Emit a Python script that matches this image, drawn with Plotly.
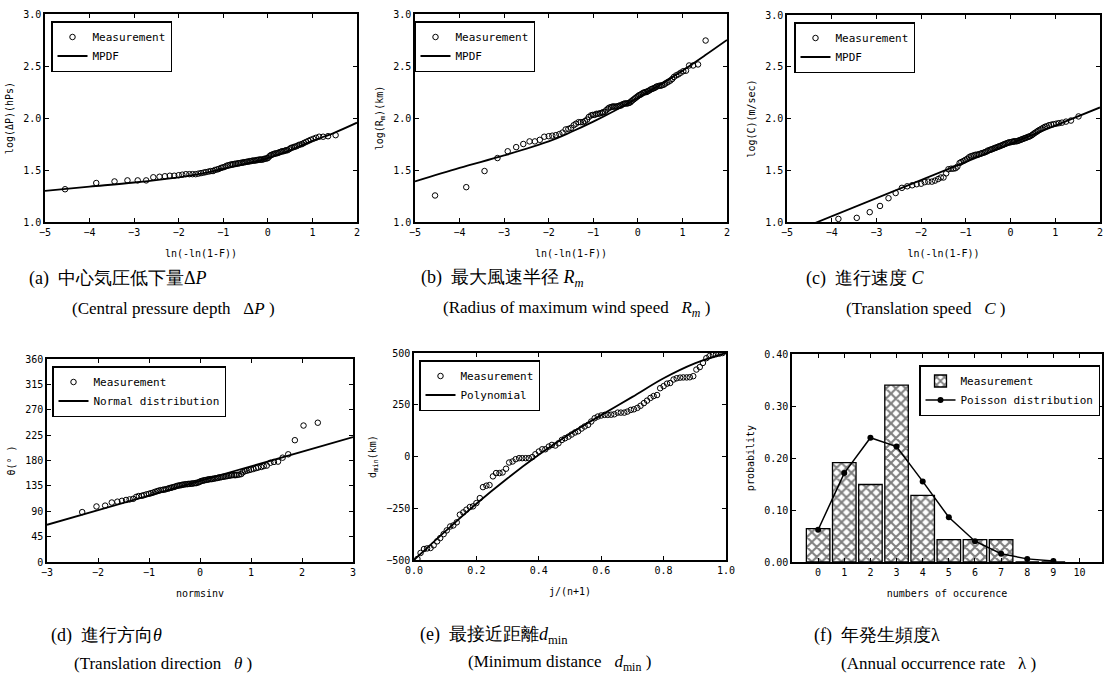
import plotly.graph_objects as go

# ---------------- data ----------------
# Gumbel plotting positions ln(-ln(1-F)) shared by panels (a)-(c)
gumbel_x = [-4.55, -3.85, -3.44, -3.15, -2.92, -2.73, -2.57, -2.43, -2.31, -2.20,
            -2.10, -2.00, -1.92, -1.84, -1.76, -1.69, -1.62, -1.56, -1.50, -1.44,
            -1.39, -1.33, -1.28, -1.23, -1.19, -1.14, -1.10, -1.05, -1.01, -0.97,
            -0.93, -0.89, -0.85, -0.81, -0.78, -0.74, -0.71, -0.67, -0.64, -0.60,
            -0.57, -0.54, -0.51, -0.47, -0.44, -0.41, -0.38, -0.35, -0.32, -0.29,
            -0.26, -0.23, -0.20, -0.17, -0.15, -0.12, -0.09, -0.06, -0.03, 0.00,
            0.03, 0.06, 0.08, 0.11, 0.14, 0.17, 0.20, 0.23, 0.26, 0.29,
            0.32, 0.35, 0.38, 0.41, 0.44, 0.48, 0.51, 0.54, 0.58, 0.61,
            0.65, 0.69, 0.73, 0.77, 0.81, 0.86, 0.91, 0.96, 1.02, 1.08,
            1.15, 1.24, 1.35, 1.52]

dp_meas = [1.315, 1.375, 1.39, 1.40, 1.40, 1.40, 1.43, 1.435, 1.44, 1.445,
           1.445, 1.45, 1.455, 1.46, 1.46, 1.46, 1.46, 1.465, 1.47, 1.475,
           1.48, 1.485, 1.49, 1.49, 1.50, 1.505, 1.51, 1.52, 1.525, 1.53,
           1.54, 1.545, 1.55, 1.555, 1.555, 1.56, 1.56, 1.565, 1.565, 1.57,
           1.57, 1.575, 1.575, 1.58, 1.58, 1.585, 1.585, 1.59, 1.59, 1.59,
           1.595, 1.595, 1.60, 1.60, 1.60, 1.60, 1.605, 1.61, 1.61, 1.615,
           1.63, 1.64, 1.645, 1.65, 1.655, 1.66, 1.66, 1.665, 1.67, 1.675,
           1.68, 1.68, 1.685, 1.69, 1.69, 1.70, 1.71, 1.715, 1.72, 1.725,
           1.73, 1.74, 1.745, 1.75, 1.76, 1.77, 1.78, 1.79, 1.80, 1.81,
           1.82, 1.82, 1.825, 1.835]

rm_meas = [1.255, 1.335, 1.49, 1.615, 1.68, 1.72, 1.75, 1.775, 1.775, 1.79,
           1.82, 1.825, 1.83, 1.835, 1.845, 1.86, 1.89, 1.895, 1.905, 1.93,
           1.945, 1.96, 1.96, 1.96, 1.97, 1.985, 2.01, 2.025, 2.03, 2.03,
           2.04, 2.04, 2.045, 2.05, 2.055, 2.06, 2.075, 2.09, 2.10, 2.105,
           2.11, 2.11, 2.11, 2.11, 2.115, 2.12, 2.12, 2.13, 2.135, 2.14,
           2.14, 2.14, 2.145, 2.15, 2.16, 2.17, 2.18, 2.19, 2.20, 2.21,
           2.22, 2.225, 2.23, 2.24, 2.245, 2.25, 2.25, 2.26, 2.265, 2.275,
           2.28, 2.285, 2.29, 2.30, 2.305, 2.31, 2.31, 2.315, 2.32, 2.33,
           2.34, 2.35, 2.36, 2.375, 2.395, 2.41, 2.42, 2.435, 2.45, 2.455,
           2.505, 2.505, 2.515, 2.745]

c_meas = [0.95, 1.03, 1.04, 1.095, 1.155, 1.23, 1.28, 1.33, 1.345, 1.355,
          1.365, 1.37, 1.385, 1.39, 1.39, 1.40, 1.415, 1.43, 1.43, 1.47,
          1.51, 1.515, 1.515, 1.52, 1.535, 1.57, 1.58, 1.59, 1.60, 1.61,
          1.625, 1.635, 1.64, 1.645, 1.65, 1.65, 1.655, 1.66, 1.665, 1.67,
          1.675, 1.68, 1.69, 1.695, 1.70, 1.705, 1.71, 1.715, 1.72, 1.725,
          1.73, 1.735, 1.74, 1.745, 1.75, 1.755, 1.76, 1.765, 1.77, 1.77,
          1.775, 1.775, 1.78, 1.78, 1.78, 1.785, 1.79, 1.795, 1.80, 1.805,
          1.81, 1.815, 1.82, 1.825, 1.83, 1.84, 1.85, 1.86, 1.87, 1.88,
          1.89, 1.90, 1.91, 1.92, 1.925, 1.935, 1.94, 1.945, 1.95, 1.955,
          1.96, 1.97, 1.98, 2.02]

mpdf_x = [-5, -4, -3, -2, -1.5, -1, -0.5, 0, 0.5, 1, 1.5, 2]
dp_mpdf = [1.30, 1.34, 1.38, 1.43, 1.465, 1.51, 1.56, 1.615, 1.69, 1.78, 1.86, 1.955]
rm_mpdf = [1.39, 1.52, 1.64, 1.775, 1.865, 1.965, 2.075, 2.195, 2.32, 2.455, 2.60, 2.75]
c_mpdf_x = [-5, 2]
c_mpdf = [0.88, 2.107]

# (d) translation direction
normsinv_x = [-2.31, -2.03, -1.86, -1.73, -1.62, -1.53, -1.45, -1.38, -1.31, -1.25,
              -1.20, -1.14, -1.10, -1.05, -1.00, -0.96, -0.92, -0.88, -0.84, -0.81,
              -0.77, -0.73, -0.70, -0.67, -0.63, -0.60, -0.57, -0.54, -0.51, -0.48,
              -0.45, -0.42, -0.39, -0.36, -0.34, -0.31, -0.28, -0.25, -0.23, -0.20,
              -0.17, -0.15, -0.12, -0.09, -0.07, -0.04, -0.01,
              0.01, 0.04, 0.07, 0.09, 0.12, 0.15, 0.17, 0.20, 0.23, 0.25,
              0.28, 0.31, 0.34, 0.36, 0.39, 0.42, 0.45, 0.48, 0.51, 0.54,
              0.57, 0.60, 0.63, 0.67, 0.70, 0.73, 0.77, 0.81, 0.84, 0.88,
              0.92, 0.96, 1.00, 1.05, 1.10, 1.14, 1.20, 1.25, 1.31, 1.38,
              1.45, 1.53, 1.62, 1.73, 1.86, 2.03, 2.31]
theta_meas = [88.5, 98.5, 100, 105.5, 107, 108.5, 110, 111, 112, 115.5,
              117, 117.5, 118.5, 120, 121, 122, 123, 124.5, 125.5, 126.5,
              127.5, 128, 128.5, 129, 130, 131, 131.5, 132.5, 133, 134,
              135, 135.5, 136, 136.5, 137, 137.5, 138, 138, 138.5, 138.5,
              139, 139, 139.5, 140, 140, 141, 142, 143, 144, 144.5,
              145, 145.5, 146, 146.5, 147, 147, 147.5, 148, 148.5, 149,
              149.5, 150, 150.5, 151, 151.5, 152, 152.5, 153, 153.5, 154,
              154, 154, 154.5, 155, 156, 159, 161, 162, 163, 164,
              165, 166.5, 167.5, 168.5, 170, 171, 176, 177.5, 178, 185,
              191, 216, 242, 247]
normal_x = [-3, 3]
normal_y = [66, 221.5]

# (e) minimum distance
rank_x = [0.011, 0.021, 0.032, 0.042, 0.053, 0.063, 0.074, 0.084, 0.095, 0.105,
          0.116, 0.126, 0.137, 0.147, 0.158, 0.168, 0.179, 0.189, 0.200, 0.211,
          0.221, 0.232, 0.242, 0.253, 0.263, 0.274, 0.284, 0.295, 0.305, 0.316,
          0.326, 0.337, 0.347, 0.358, 0.368, 0.379, 0.389, 0.400, 0.411, 0.421,
          0.432, 0.442, 0.453, 0.463, 0.474, 0.484, 0.495, 0.505, 0.516, 0.526,
          0.537, 0.547, 0.558, 0.568, 0.579, 0.589, 0.600, 0.611, 0.621, 0.632,
          0.642, 0.653, 0.663, 0.674, 0.684, 0.695, 0.705, 0.716, 0.726, 0.737,
          0.747, 0.758, 0.768, 0.779, 0.789, 0.800, 0.811, 0.821, 0.832, 0.842,
          0.853, 0.863, 0.874, 0.884, 0.895, 0.905, 0.916, 0.926, 0.937, 0.947,
          0.958, 0.968, 0.979, 0.989]
dmin_meas = [-495, -466, -447, -444, -442, -429, -410, -394, -375, -357,
             -338, -333, -318, -281, -270, -257, -244, -241, -225, -201,
             -148, -141, -138, -96, -80, -80, -77, -59, -29, -24,
             -13, -8, -8, -8, -8, -3, 11, 24, 35, 35,
             48, 56, 53, 64, 80, 88, 96, 106, 116, 122,
             135, 145, 153, 169, 185, 193, 198, 201, 201, 202,
             204, 212, 212, 212, 217, 225, 228, 235, 245, 258,
             270, 283, 292, 297, 330, 340, 352, 355, 372, 378,
             381, 382, 382, 383, 388, 420, 432, 452, 475, 485,
             490, 494, 497, 500]
poly_x = [0.0, 0.1, 0.2, 0.3, 0.4, 0.5, 0.6, 0.7, 0.8, 0.9, 1.0]
poly_y = [-500, -362, -228, -105, 8, 110, 200, 288, 378, 450, 500]

# (f) annual occurrence
occ_x = [0, 1, 2, 3, 4, 5, 6, 7, 8, 9]
occ_meas = [0.064, 0.191, 0.149, 0.340, 0.128, 0.043, 0.043, 0.043, 0.0, 0.0]
occ_poisson = [0.062, 0.171, 0.239, 0.222, 0.155, 0.086, 0.040, 0.016, 0.006, 0.002]

# axis titles
sp = "\u00a0"
x_titles = {1: "ln(-ln(1-F))" + sp * 5, 2: "ln(-ln(1-F))" + sp * 5, 3: "ln(-ln(1-F))" + sp * 5,
            4: "normsinv", 5: "j/(n+1)", 6: "numbers of occurence"}
y_titles = {1: sp * 4 + "log(ΔP)(hPs)", 2: sp * 7 + "log(R<sub>m</sub>)(km)",
            3: sp * 9 + "log(C)(m/sec)", 4: "θ(° )", 5: "d<sub>min</sub>(km)", 6: "probability"}

# ---------------- layout helpers ----------------
W, H = 1111, 677
def fx(p):
    return p / W
def fy(p):
    return 1 - p / H

MONO = "DejaVu Sans Mono"
SERIF = "Liberation Serif"

boxes = {  # pixel boxes: (x0, x1, ytop, ybottom)
    1: (45, 357, 14, 222),
    2: (415, 727, 14, 222),
    3: (787, 1100, 15, 222),
    4: (47, 353, 359, 562),
    5: (414, 726, 353, 560),
    6: (792, 1102, 354, 562),
}

fig = go.Figure()

circ = dict(symbol="circle-open", size=5.5, color="black", line=dict(width=1, color="black"))

def add_pair(i, xs, ys, lx, ly, line_name, spline=True):
    ax = "" if i == 1 else str(i)
    lg = "legend" if i == 1 else "legend%d" % i
    fig.add_trace(go.Scatter(x=xs, y=ys, mode="markers", marker=circ, name="Measurement",
                             xaxis="x" + ax, yaxis="y" + ax, legend=lg, cliponaxis=True))
    fig.add_trace(go.Scatter(x=lx, y=ly, mode="lines", name=line_name,
                             line=dict(color="black", width=1.8, shape="spline" if spline else "linear"),
                             xaxis="x" + ax, yaxis="y" + ax, legend=lg, cliponaxis=True))

add_pair(1, gumbel_x, dp_meas, mpdf_x, dp_mpdf, "MPDF")
add_pair(2, gumbel_x, rm_meas, mpdf_x, rm_mpdf, "MPDF")
add_pair(3, gumbel_x, c_meas, c_mpdf_x, c_mpdf, "MPDF", spline=False)
add_pair(4, normsinv_x, theta_meas, normal_x, normal_y, "Normal distribution", spline=False)
add_pair(5, rank_x, dmin_meas, poly_x, poly_y, "Polynomial")

fig.add_trace(go.Bar(x=occ_x, y=occ_meas, name="Measurement", width=0.9,
                     marker=dict(color="white", line=dict(color="black", width=1.3),
                                 pattern=dict(shape="x", fgcolor="black", bgcolor="white",
                                              size=7, solidity=0.5)),
                     xaxis="x6", yaxis="y6", legend="legend6"))
fig.add_trace(go.Scatter(x=occ_x, y=occ_poisson, mode="lines+markers", name="Poisson distribution",
                         line=dict(color="black", width=1.5),
                         marker=dict(symbol="circle", size=6, color="black"),
                         xaxis="x6", yaxis="y6", legend="legend6"))

tickfont = dict(family=MONO, size=10, color="black")
titlefont = dict(family=MONO, size=10, color="black")

def axis_common():
    return dict(showline=True, linecolor="black", linewidth=1.5, mirror="ticks",
                ticks="inside", ticklen=4, tickwidth=1, tickcolor="black",
                showgrid=False, zeroline=False, tickfont=tickfont, fixedrange=True,
                automargin=False)

axes_cfg = {
    1: (dict(range=[-5, 2], tickvals=[-5, -4, -3, -2, -1, 0, 1, 2]),
        dict(range=[1, 3], tickvals=[1, 1.5, 2, 2.5, 3], tickformat=".1f")),
    2: (dict(range=[-5, 2], tickvals=[-5, -4, -3, -2, -1, 0, 1, 2]),
        dict(range=[1, 3], tickvals=[1, 1.5, 2, 2.5, 3], tickformat=".1f")),
    3: (dict(range=[-5, 2], tickvals=[-5, -4, -3, -2, -1, 0, 1, 2]),
        dict(range=[1, 3], tickvals=[1, 1.5, 2, 2.5, 3], tickformat=".1f")),
    4: (dict(range=[-3, 3], tickvals=[-3, -2, -1, 0, 1, 2, 3]),
        dict(range=[0, 360], tickvals=[0, 45, 90, 135, 180, 225, 270, 315, 360])),
    5: (dict(range=[0, 1], tickvals=[0, 0.2, 0.4, 0.6, 0.8, 1.0], tickformat=".1f"),
        dict(range=[-500, 500], tickvals=[-500, -250, 0, 250, 500])),
    6: (dict(range=[-1, 10.86], tickvals=[-1, 0, 1, 2, 3, 4, 5, 6, 7, 8, 9, 10],
             ticktext=["", "0", "1", "2", "3", "4", "5", "6", "7", "8", "9", "10"]),
        dict(range=[0, 0.4], tickvals=[0, 0.1, 0.2, 0.3, 0.4], tickformat=".2f")),
}

layout_axes = {}
for i, (xc, yc) in axes_cfg.items():
    x0, x1, yt, yb = boxes[i]
    ax = "" if i == 1 else str(i)
    xa = axis_common(); xa.update(xc)
    xa.update(domain=[fx(x0), fx(x1)], anchor="y" + ax,
              title=dict(text=x_titles[i], font=titlefont, standoff=13))
    ya = axis_common(); ya.update(yc)
    ya.update(domain=[fy(yb), fy(yt)], anchor="x" + ax,
              title=dict(text=y_titles[i], font=titlefont, standoff=8))
    layout_axes["xaxis" + ax] = xa
    layout_axes["yaxis" + ax] = ya

legend_pos = {1: (51, 21), 2: (414, 21), 3: (794, 22), 4: (52, 366), 5: (419, 360), 6: (919, 365)}
legends = {}
for i, (lx, ly) in legend_pos.items():
    key = "legend" if i == 1 else "legend%d" % i
    legends[key] = dict(x=fx(lx), y=fy(ly), xanchor="left", yanchor="top",
                        bordercolor="black", borderwidth=1.5, bgcolor="white",
                        font=dict(family=MONO, size=11, color="black"),
                        tracegroupgap=0, traceorder="normal", itemclick=False,
                        itemdoubleclick=False)

annotations = []
def ann(text, x, y, size=11, family=MONO, angle=0, xanchor="center"):
    annotations.append(dict(text=text, x=fx(x), y=fy(y), xref="paper", yref="paper",
                            showarrow=False, textangle=angle, xanchor=xanchor, yanchor="middle",
                            font=dict(family=family, size=size, color="black")))

# captions
ann("(a)" + sp * 2 + "中心気圧低下量Δ<i>P</i>", 27, 278, size=18, family=SERIF, xanchor="left")
ann("(Central pressure depth" + sp * 3 + "Δ<i>P</i> )", 70, 309, size=17, family=SERIF, xanchor="left")
ann("(b)" + sp * 2 + "最大風速半径 <i>R<sub>m</sub></i>", 419, 278, size=18, family=SERIF, xanchor="left")
ann("(Radius of maximum wind speed" + sp * 3 + "<i>R<sub>m</sub></i> )", 441, 309, size=17, family=SERIF, xanchor="left")
ann("(c)" + sp * 2 + "進行速度 <i>C</i>", 804, 278, size=18, family=SERIF, xanchor="left")
ann("(Translation speed" + sp * 3 + "<i>C</i> )", 844, 309, size=17, family=SERIF, xanchor="left")
ann("(d)" + sp * 2 + "進行方向<i>θ</i>", 49, 635, size=18, family=SERIF, xanchor="left")
ann("(Translation direction" + sp * 3 + "<i>θ</i> )", 72, 663, size=17, family=SERIF, xanchor="left")
ann("(e)" + sp * 2 + "最接近距離<i>d</i><sub>min</sub>", 418, 635, size=18, family=SERIF, xanchor="left")
ann("(Minimum distance" + sp * 3 + "<i>d</i><sub>min</sub> )", 466, 663, size=17, family=SERIF, xanchor="left")
ann("(f)" + sp * 2 + "年発生頻度λ", 812, 635, size=18, family=SERIF, xanchor="left")
ann("(Annual occurrence rate" + sp * 3 + "λ )", 839, 663, size=17, family=SERIF, xanchor="left")

fig.update_layout(width=W, height=H, autosize=False,
                  margin=dict(l=0, r=0, t=0, b=0, pad=0),
                  paper_bgcolor="white", plot_bgcolor="white",
                  showlegend=True, annotations=annotations, bargap=0.1,
                  **layout_axes, **legends)

fig.write_html("out.html", config={"displayModeBar": False})
